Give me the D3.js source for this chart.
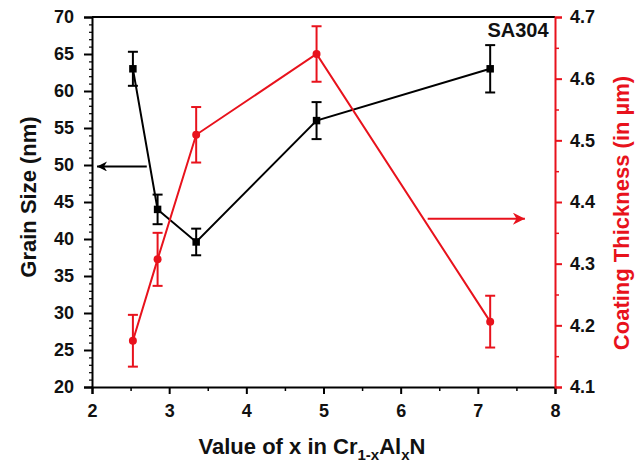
<!DOCTYPE html>
<html>
<head>
<meta charset="utf-8">
<script src="https://cdn.jsdelivr.net/npm/d3@7"></script>
<style>
  body { margin: 0; background: #fff; }
  text { font-family: Arial, "Liberation Sans", sans-serif; font-weight: bold; }
</style>
</head>
<body>
<svg id="chart" width="644" height="463"></svg>
<script>
// values
var xValues = [2.53, 2.85, 3.35, 4.91, 7.16];
var grainSize = [63, 44, 39.6, 56, 63];
var grainErr = [2.3, 2, 1.8, 2.5, 3.2];
var thickness = [4.175, 4.307, 4.509, 4.64, 4.206];
var thickErr = [0.042, 0.043, 0.045, 0.045, 0.042];
var xTicks = [2, 3, 4, 5, 6, 7, 8];
var leftTicks = [20, 25, 30, 35, 40, 45, 50, 55, 60, 65, 70];
var rightTicks = [4.1, 4.2, 4.3, 4.4, 4.5, 4.6, 4.7];

var red = "#e8121c";
var svg = d3.select("#chart");
var mLeft = 92, mRight = 555, mTop = 17, mBottom = 387;

var x = d3.scaleLinear().domain([2, 8]).range([mLeft, mRight]);
var yL = d3.scaleLinear().domain([20, 70]).range([mBottom, mTop]);
var yR = d3.scaleLinear().domain([4.1, 4.7]).range([mBottom, mTop]);

// minor ticks first
svg.append("g")
  .attr("transform", "translate(0," + mBottom + ")")
  .call(d3.axisBottom(x).tickValues(d3.range(2.5, 8, 1)).tickSize(4).tickFormat(""))
  .call(function (g) { g.select(".domain").remove(); g.selectAll("line").attr("stroke-width", 1.5); });
svg.append("g")
  .attr("transform", "translate(" + mLeft + ",0)")
  .call(d3.axisLeft(yL).tickValues(d3.range(21, 70, 1).filter(function (d) { return d % 5 != 0; })).tickSize(3).tickFormat(""))
  .call(function (g) { g.select(".domain").remove(); g.selectAll("line").attr("stroke-width", 1.2); });
svg.append("g")
  .attr("transform", "translate(" + mRight + ",0)")
  .call(d3.axisRight(yR).tickValues(d3.range(4.15, 4.7, 0.1)).tickSize(4).tickFormat(""))
  .call(function (g) { g.select(".domain").remove(); g.selectAll("line").attr("stroke", red).attr("stroke-width", 1.5); });

// top frame
svg.append("line")
  .attr("x1", mLeft).attr("x2", mRight).attr("y1", mTop).attr("y2", mTop)
  .attr("stroke", "#000").attr("stroke-width", 2);

var xAxis = svg.append("g")
  .attr("transform", "translate(0," + mBottom + ")")
  .call(d3.axisBottom(x).tickValues(xTicks).tickSize(7).tickPadding(10).tickFormat(d3.format("d")));
var lAxis = svg.append("g")
  .attr("transform", "translate(" + mLeft + ",0)")
  .call(d3.axisLeft(yL).tickValues(leftTicks).tickSize(8).tickPadding(10));
var rAxis = svg.append("g")
  .attr("transform", "translate(" + mRight + ",0)")
  .call(d3.axisRight(yR).tickValues(rightTicks).tickSize(7).tickPadding(8).tickFormat(d3.format(".1f")));

[xAxis, lAxis, rAxis].forEach(function (g) {
  g.select(".domain").attr("stroke-width", 2);
  g.selectAll("line").attr("stroke-width", 2);
  g.selectAll("text").attr("font-size", 18).attr("font-family", "Arial, 'Liberation Sans', sans-serif")
    .attr("font-weight", "bold").attr("fill", "#111");
});
rAxis.select(".domain").attr("stroke", red);
rAxis.selectAll("line").attr("stroke", red);

// axis titles
svg.append("text")
  .attr("transform", "translate(36,197) rotate(-90)")
  .attr("text-anchor", "middle").attr("font-size", 22).attr("fill", "#111")
  .text("Grain Size (nm)");
svg.append("text")
  .attr("transform", "translate(629,213) rotate(-90)")
  .attr("text-anchor", "middle").attr("font-size", 22).attr("fill", red)
  .text("Coating Thickness (in µm)");
var xt = svg.append("text")
  .attr("x", 312).attr("y", 454)
  .attr("text-anchor", "middle").attr("font-size", 22).attr("fill", "#111");
xt.append("tspan").text("Value of x in Cr");
xt.append("tspan").attr("font-size", 15).attr("dy", 6).text("1-x");
xt.append("tspan").attr("dy", -6).text("Al");
xt.append("tspan").attr("font-size", 15).attr("dy", 6).text("x");
xt.append("tspan").attr("dy", -6).text("N");

svg.append("text")
  .attr("x", 518).attr("y", 37).attr("text-anchor", "middle")
  .attr("font-size", 20).attr("fill", "#111").text("SA304");

// arrows
var defs = svg.append("defs");
function head(id, color, w, h) {
  defs.append("marker").attr("id", id)
    .attr("viewBox", "0 0 10 10").attr("refX", 10).attr("refY", 5)
    .attr("markerWidth", w).attr("markerHeight", h).attr("markerUnits", "userSpaceOnUse")
    .attr("orient", "auto")
    .append("path").attr("d", "M0,0 L10,5 L0,10 L3,5 Z").attr("fill", color);
}
head("hk", "#000", 20, 10);
head("hr", red, 30, 12);
svg.append("line")
  .attr("x1", x(2.71)).attr("x2", x(2.065)).attr("y1", yL(49.8)).attr("y2", yL(49.8))
  .attr("stroke", "#000").attr("stroke-width", 2).attr("marker-end", "url(#hk)");
svg.append("line")
  .attr("x1", x(6.35)).attr("x2", x(7.61)).attr("y1", yR(4.373)).attr("y2", yR(4.373))
  .attr("stroke", red).attr("stroke-width", 2).attr("marker-end", "url(#hr)");

function series(vals, errs, y, color, shape, sz) {
  var pts = xValues.map(function (d, i) { return { x: d, y: vals[i], e: errs[i] }; });
  var g = svg.append("g");
  g.append("path").datum(pts)
    .attr("fill", "none").attr("stroke", color).attr("stroke-width", 2)
    .attr("d", d3.line().x(function (d) { return x(d.x); }).y(function (d) { return y(d.y); }));
  var eb = g.selectAll(".eb").data(pts).enter().append("g");
  eb.append("line")
    .attr("x1", function (d) { return x(d.x); }).attr("x2", function (d) { return x(d.x); })
    .attr("y1", function (d) { return y(d.y - d.e); }).attr("y2", function (d) { return y(d.y + d.e); })
    .attr("stroke", color).attr("stroke-width", 2);
  [-1, 1].forEach(function (s) {
    eb.append("line")
      .attr("x1", function (d) { return x(d.x) - 5; }).attr("x2", function (d) { return x(d.x) + 5; })
      .attr("y1", function (d) { return y(d.y + s * d.e); }).attr("y2", function (d) { return y(d.y + s * d.e); })
      .attr("stroke", color).attr("stroke-width", 2);
  });
  g.selectAll(".pt").data(pts).enter().append("path")
    .attr("transform", function (d) { return "translate(" + x(d.x) + "," + y(d.y) + ")"; })
    .attr("d", d3.symbol().type(shape).size(sz))
    .attr("fill", color);
}
series(grainSize, grainErr, yL, "#000", d3.symbolSquare, 56);
series(thickness, thickErr, yR, red, d3.symbolCircle, 50);
</script>
</body>
</html>
